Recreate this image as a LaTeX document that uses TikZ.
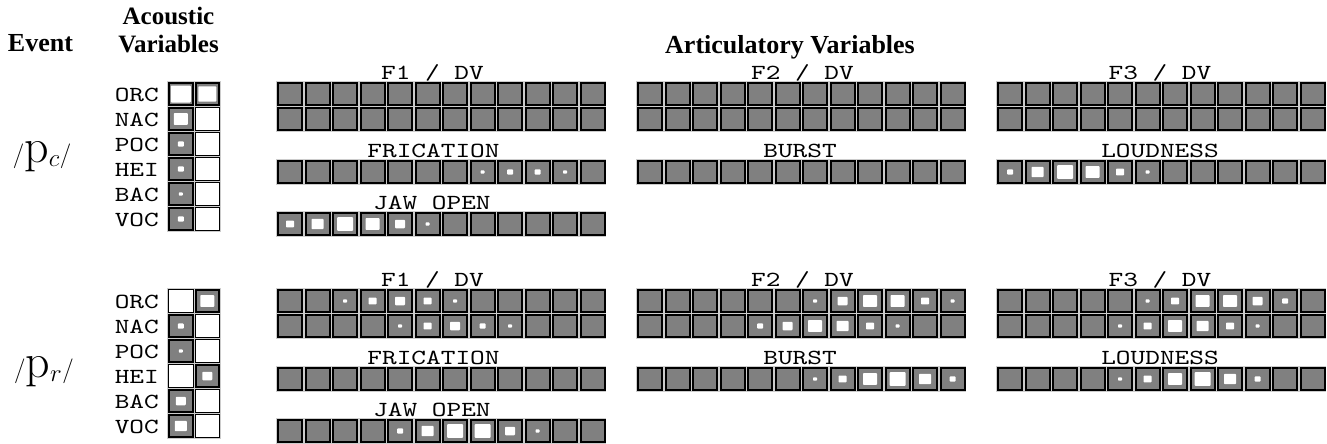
\documentclass[tikz,border=0pt]{standalone}
\usepackage{fontspec}
\newfontfamily\ttf{lmmono10-regular}[Extension=.otf,FakeStretch=1.3]
\newfontfamily\hdr{Liberation Serif}
\definecolor{cellgray}{RGB}{128,128,128}
\tikzset{
  hdrtext/.style={font=\hdr\bfseries\fontsize{26}{23}\selectfont, inner sep=0, anchor=base},
  ttlabel/.style={font=\ttf\fontsize{21.5}{21.5}\selectfont, inner sep=0, anchor=base},
  acl/.style={font=\ttf\fontsize{21.5}{21.5}\selectfont, inner sep=0, anchor=base east},
  evtext/.style={font=\fontsize{48}{48}\selectfont, inner sep=0, anchor=center},
}
\newcommand{\mycell}[4]{%
  \pgfmathsetmacro{\cx}{#1}\pgfmathsetmacro{\cy}{#2}\pgfmathsetmacro{\lv}{#4}%
  \fill[gray!40] (\cx-0.75,\cy-0.75) rectangle ++(#3+1.5,25.5);
  \fill[black] (\cx,\cy) rectangle ++(#3,24);
  \ifdim\lv pt>5.5pt
    \fill[white] (\cx+1,\cy+1) rectangle ++(#3-2,22);
  \else
    \fill[cellgray] (\cx+2,\cy+2) rectangle ++(#3-4,20);
    \ifdim\lv pt>0.1pt
      \fill[white,rounded corners=0.8] (\cx+#3/2-2*\lv,\cy+12-1.7*\lv) rectangle (\cx+#3/2+2*\lv,\cy+12+1.7*\lv);
    \fi
  \fi}
\newcommand{\cellrow}[3]{%
  \foreach \v [count=\i from 0] in {#3} {\mycell{#1+\i*27.5}{#2}{26}{\v}}}
\newcommand{\acrow}[4]{% y, label, lv1, lv2
  \node[acl] at (159,#1+19) {#2};
  \mycell{168}{#1}{25.5}{#3}
  \mycell{194.5}{#1}{25.5}{#4}}
\begin{document}
\begin{tikzpicture}[x=1pt,y=-1pt]
\useasboundingbox (0,0) rectangle (1327,444);
% headers
\node[hdrtext] (hev) at (40.5,52) {Event};
\node[hdrtext, font=\hdr\bfseries\fontsize{25}{28}\selectfont, align=center, anchor=north] (hac) at (168.5,7) {Acoustic\\Variables};
\node[hdrtext] (har) at (790,53) {Articulatory Variables};
% ===== event 1 =====
\node[evtext] (ev1) at (42,157) {$/\mathrm{p}_c/$};
\acrow{82}{ORC}{5}{4.5}
\acrow{107}{NAC}{3.5}{6}
\acrow{132}{POC}{1.5}{6}
\acrow{157}{HEI}{1.5}{6}
\acrow{182}{BAC}{1}{6}
\acrow{207}{VOC}{1.5}{6}
\node[ttlabel] (a1) at (432.5,79) {F1 / DV};
\node[ttlabel] (b1) at (802.5,79) {F2 / DV};
\node[ttlabel] (c1) at (1160,79) {F3 / DV};
\cellrow{277}{82}{0,0,0,0,0,0,0,0,0,0,0,0}
\cellrow{277}{107}{0,0,0,0,0,0,0,0,0,0,0,0}
\cellrow{637}{82}{0,0,0,0,0,0,0,0,0,0,0,0}
\cellrow{637}{107}{0,0,0,0,0,0,0,0,0,0,0,0}
\cellrow{997}{82}{0,0,0,0,0,0,0,0,0,0,0,0}
\cellrow{997}{107}{0,0,0,0,0,0,0,0,0,0,0,0}
\node[ttlabel] (a2) at (433.5,157) {FRICATION};
\node[ttlabel] (b2) at (800,157) {BURST};
\node[ttlabel] (c2) at (1160,157) {LOUDNESS};
\cellrow{277}{160}{0,0,0,0,0,0,0,1,1.5,1.5,1,0}
\cellrow{637}{160}{0,0,0,0,0,0,0,0,0,0,0,0}
\cellrow{997}{160}{1.5,3,4,3.5,2,1,0,0,0,0,0,0}
\node[ttlabel] (a3) at (432,209) {JAW OPEN};
\cellrow{277}{212}{2,3,4,3.5,2.5,1,0,0,0,0,0,0}
% ===== event 2 =====
\node[evtext] (ev2) at (44,372) {$/\mathrm{p}_r/$};
\acrow{289}{ORC}{6}{3.5}
\acrow{314}{NAC}{1.5}{6}
\acrow{339}{POC}{1}{6}
\acrow{364}{HEI}{6}{2.5}
\acrow{389}{BAC}{2.5}{6}
\acrow{414}{VOC}{3}{6}
\node[ttlabel] (a4) at (432.5,286) {F1 / DV};
\node[ttlabel] (b4) at (802.5,286) {F2 / DV};
\node[ttlabel] (c4) at (1160,286) {F3 / DV};
\cellrow{277}{289}{0,0,1,2,2.5,2,1,0,0,0,0,0}
\cellrow{277}{314}{0,0,0,0,1,2,2.5,1.5,1,0,0,0}
\cellrow{637}{289}{0,0,0,0,0,0,1,2.5,3.5,3.5,2,1}
\cellrow{637}{314}{0,0,0,0,1.5,2.5,3.5,3,2,1,0,0}
\cellrow{997}{289}{0,0,0,0,0,1,2,3.5,3.5,2.5,1.5,0}
\cellrow{997}{314}{0,0,0,0,1,2,3.5,3,2,1,0,0}
\node[ttlabel] (a5) at (433.5,364) {FRICATION};
\node[ttlabel] (b5) at (800,364) {BURST};
\node[ttlabel] (c5) at (1160,364) {LOUDNESS};
\cellrow{277}{367}{0,0,0,0,0,0,0,0,0,0,0,0}
\cellrow{637}{367}{0,0,0,0,0,0,1,2,3.5,4,3,1.5}
\cellrow{997}{367}{0,0,0,0,1,2,3.5,4,3,1.5,0,0}
\node[ttlabel] (a6) at (432,416) {JAW OPEN};
\cellrow{277}{419}{0,0,0,0,1.5,3,4,4,2.5,1,0,0}
\end{tikzpicture}
\end{document}
